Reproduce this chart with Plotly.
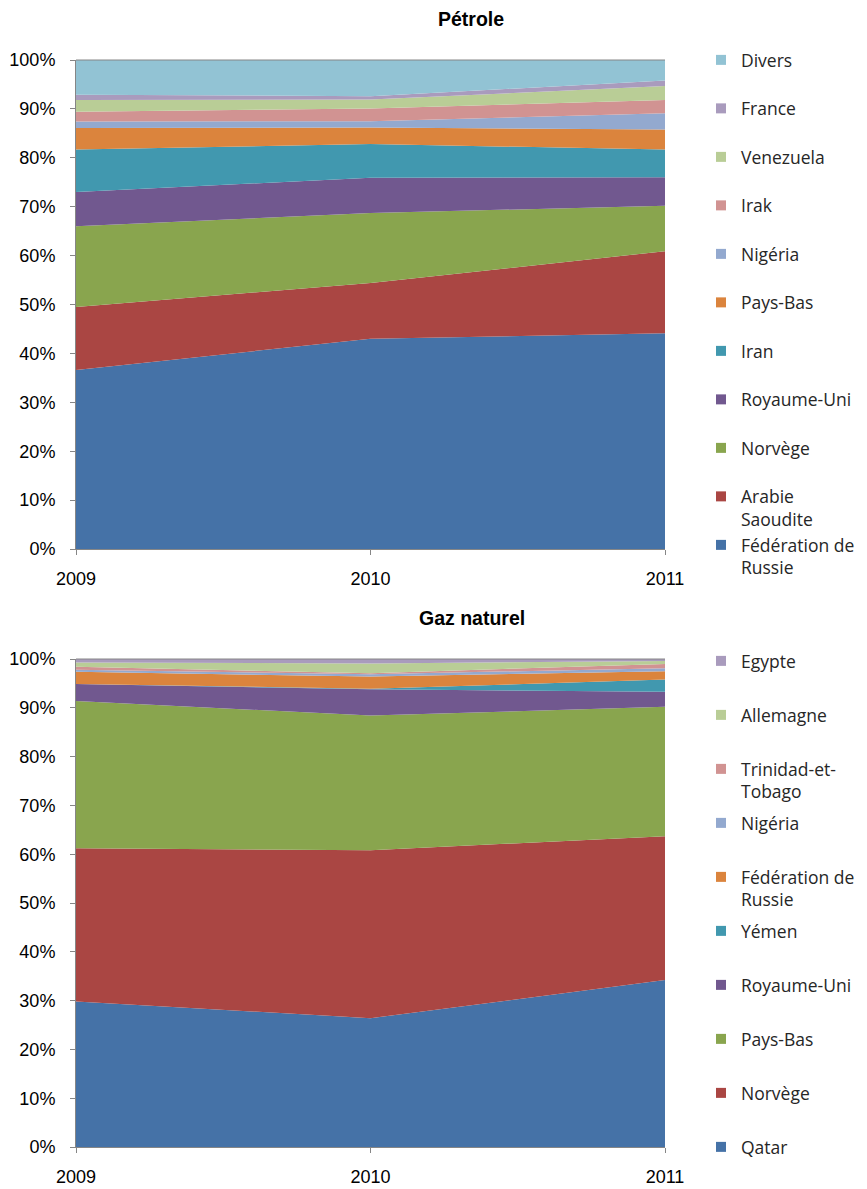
import plotly.graph_objects as go

years = [2009, 2010, 2011]
year_labels = ["2009", "2010", "2011"]
pct_vals = list(range(0, 101, 10))
pct_labels = ["%d%%" % v for v in pct_vals]

# ---- Pétrole (stack order bottom -> top) ----
oil_countries = ["Fédération de Russie", "Arabie Saoudite", "Norvège", "Royaume-Uni", "Iran",
                 "Pays-Bas", "Nigéria", "Irak", "Venezuela", "France", "Divers"]
oil_russie = [36.6, 43.0, 44.1]
oil_arabie = [12.9, 11.4, 16.8]
oil_norvege = [16.5, 14.3, 9.3]
oil_ru = [7.0, 7.2, 5.8]
oil_iran = [8.7, 6.9, 5.7]
oil_paysbas = [4.4, 3.4, 4.1]
oil_nigeria = [1.3, 1.3, 3.3]
oil_irak = [2.0, 2.6, 2.7]
oil_venezuela = [2.4, 1.8, 2.9]
oil_france = [1.1, 0.7, 1.1]
oil_divers = [7.1, 7.4, 4.2]
oil_values = [oil_russie, oil_arabie, oil_norvege, oil_ru, oil_iran, oil_paysbas,
              oil_nigeria, oil_irak, oil_venezuela, oil_france, oil_divers]
oil_colors = ["#4572A7", "#AA4643", "#89A54E", "#71588F", "#4198AF", "#DB843D",
              "#93A9CF", "#D19392", "#B9CD96", "#A99BBD", "#92C3D4"]

# ---- Gaz naturel (stack order bottom -> top) ----
gas_countries = ["Qatar", "Norvège", "Pays-Bas", "Royaume-Uni", "Yémen", "Fédération de Russie",
                 "Nigéria", "Trinidad-et-Tobago", "Allemagne", "Egypte"]
gas_qatar = [29.8, 26.4, 34.2]
gas_norvege = [31.4, 34.4, 29.5]
gas_paysbas = [30.2, 27.6, 26.5]
gas_ru = [3.5, 5.4, 3.1]
gas_yemen = [0.0, 0.1, 2.5]
gas_russie = [2.5, 2.5, 1.7]
gas_nigeria = [0.4, 0.5, 0.6]
gas_trinidad = [0.6, 0.2, 0.9]
gas_allemagne = [0.9, 2.0, 0.6]
gas_egypte = [0.7, 0.9, 0.4]
gas_values = [gas_qatar, gas_norvege, gas_paysbas, gas_ru, gas_yemen, gas_russie,
              gas_nigeria, gas_trinidad, gas_allemagne, gas_egypte]
gas_colors = ["#4572A7", "#AA4643", "#89A54E", "#71588F", "#4198AF", "#DB843D",
              "#93A9CF", "#D19392", "#B9CD96", "#A99BBD"]

wrap = {"Arabie Saoudite": "Arabie<br>Saoudite",
        "Fédération de Russie": "Fédération de<br>Russie",
        "Trinidad-et-Tobago": "Trinidad-et-<br>Tobago"}


def legend_label(name, last=False):
    if name in wrap:
        return wrap[name]
    return name if last else name + "<br>\u00a0"


fig = go.Figure()

# area traces
for name, vals, col in zip(oil_countries, oil_values, oil_colors):
    fig.add_trace(go.Scatter(x=years, y=vals, name=name, stackgroup="oil", groupnorm="percent",
                             mode="lines", line=dict(width=0), fillcolor=col,
                             showlegend=False, hoverinfo="x+y+name", xaxis="x", yaxis="y"))
for name, vals, col in zip(gas_countries, gas_values, gas_colors):
    fig.add_trace(go.Scatter(x=years, y=vals, name=name, stackgroup="gas", groupnorm="percent",
                             mode="lines", line=dict(width=0), fillcolor=col,
                             showlegend=False, hoverinfo="x+y+name", xaxis="x2", yaxis="y2"))

# legend entries (square swatches), top of stack listed first
oil_leg = list(zip(oil_countries, oil_colors))[::-1]
for i, (name, col) in enumerate(oil_leg):
    fig.add_trace(go.Scatter(x=[None], y=[None], name=legend_label(name, i == len(oil_leg) - 1),
                             mode="markers", marker=dict(symbol="square", size=10, color=col),
                             legend="legend", legendgroup="o_" + name, xaxis="x", yaxis="y"))
gas_leg = list(zip(gas_countries, gas_colors))[::-1]
for i, (name, col) in enumerate(gas_leg):
    fig.add_trace(go.Scatter(x=[None], y=[None], name=legend_label(name, i == len(gas_leg) - 1),
                             mode="markers", marker=dict(symbol="square", size=10, color=col),
                             legend="legend2", legendgroup="g_" + name, xaxis="x2", yaxis="y2"))

# page has an 8px body margin: figure coordinates = page coordinates - 8
OFF = 8
W, H = 867 - OFF, 1189 - OFF
ml, mt = 76 - OFF, 60 - OFF
plot_right, plot_bottom = 665 - OFF, 1147 - OFF
mr, mb = W - plot_right, H - plot_bottom
ph = H - mt - mb
pw = W - ml - mr


def py(page_y):
    return 1 - (page_y - OFF - mt) / ph


def px(page_x):
    return (page_x - OFF - ml) / pw


axis_common = dict(showline=True, linecolor="#868686", linewidth=1, ticks="outside",
                   tickcolor="#868686", ticklen=5, showgrid=False, zeroline=False,
                   automargin=False,
                   tickfont=dict(family="Liberation Sans, Arial", size=18, color="#000000"))

xcommon = dict(axis_common, range=[2009, 2011], tickvals=years, ticktext=year_labels,
               ticklabelstandoff=8)
ycommon = dict(axis_common, range=[0, 100], tickvals=pct_vals, ticktext=pct_labels,
               ticklabelstandoff=11)

legend_font = dict(family="Open Sans", size=17.5, color="#262626")

fig.update_layout(
    width=W, height=H,
    margin=dict(l=ml, r=mr, t=mt, b=mb, autoexpand=False),
    plot_bgcolor="white", paper_bgcolor="white",
    xaxis=dict(xcommon, anchor="y", domain=[0, 1]),
    yaxis=dict(ycommon, anchor="x", domain=[py(549), 1]),
    xaxis2=dict(xcommon, anchor="y2", domain=[0, 1]),
    yaxis2=dict(ycommon, anchor="x2", domain=[0, py(659)]),
    legend=dict(x=px(701), y=py(42), xanchor="left", yanchor="top", traceorder="grouped",
                valign="top", font=legend_font, bgcolor="rgba(0,0,0,0)", tracegroupgap=0),
    legend2=dict(x=px(701), y=py(643), xanchor="left", yanchor="top",
                 traceorder="grouped", valign="top", font=legend_font,
                 bgcolor="rgba(0,0,0,0)", tracegroupgap=5.5),
    shapes=[
        dict(type="line", xref="x domain", yref="y domain", x0=0, x1=1, y0=1, y1=1,
             line=dict(color="#868686", width=1)),
        dict(type="line", xref="x2 domain", yref="y2 domain", x0=0, x1=1, y0=1, y1=1,
             line=dict(color="#868686", width=1)),
    ],
    annotations=[
        dict(text="<b>Pétrole</b>", x=px(471), y=py(19), xref="paper", yref="paper",
             showarrow=False, xanchor="center", yanchor="middle",
             font=dict(family="Liberation Sans, Arial", size=19.5, color="#000000")),
        dict(text="<b>Gaz naturel</b>", x=px(472), y=py(618), xref="paper", yref="paper",
             showarrow=False, xanchor="center", yanchor="middle",
             font=dict(family="Liberation Sans, Arial", size=19.5, color="#000000")),
    ],
)

fig.write_html("out.html")
